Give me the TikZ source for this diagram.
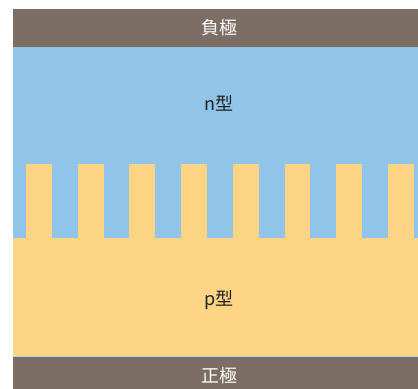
\documentclass[tikz,border=0pt]{standalone}
\usepackage{fontspec}
\newfontfamily\cjk{Noto Sans CJK JP}
\definecolor{electrode}{HTML}{7D6E65}
\definecolor{ntype}{HTML}{90C4E8}
\definecolor{ptype}{HTML}{FDD585}
\definecolor{labeltext}{HTML}{222222}
\tikzset{
  barlabel/.style={text=white,font=\cjk\fontsize{18bp}{20bp}\selectfont,inner sep=0pt},
  regionlabel/.style={text=labeltext,font=\cjk\fontsize{18bp}{20bp}\selectfont,inner sep=0pt},
  finger/.style={fill=ptype,draw=none}
}
\begin{document}
\begin{tikzpicture}[x=1bp,y=-1bp]
\useasboundingbox (0,0) rectangle (418,389);
\fill[white] (0,0) rectangle (418,389);
% n-type region
\fill[ntype] (13,47) rectangle (418,238);
% p-type region
\fill[ptype] (13,238) rectangle (418,356.5);
% fingers
\foreach \k in {0,...,7}{
  \fill[ptype] ({26+51.72*\k},164.3) rectangle ({26+51.72*\k+25.8},238.5);
}
% electrodes
\fill[electrode] (13,9) rectangle (418,47);
\fill[electrode] (13,356.5) rectangle (418,389);
\draw[ntype!70!white,line width=0.6bp] (13,356.5) -- (418,356.5);
% labels
\node[barlabel] (neg) at (219,28) {負極};
\node[regionlabel] (n) at (219,103.5) {n型};
\node[regionlabel] (p) at (219,300) {p型};
\node[barlabel] (pos) at (219,376) {正極};
\end{tikzpicture}
\end{document}
